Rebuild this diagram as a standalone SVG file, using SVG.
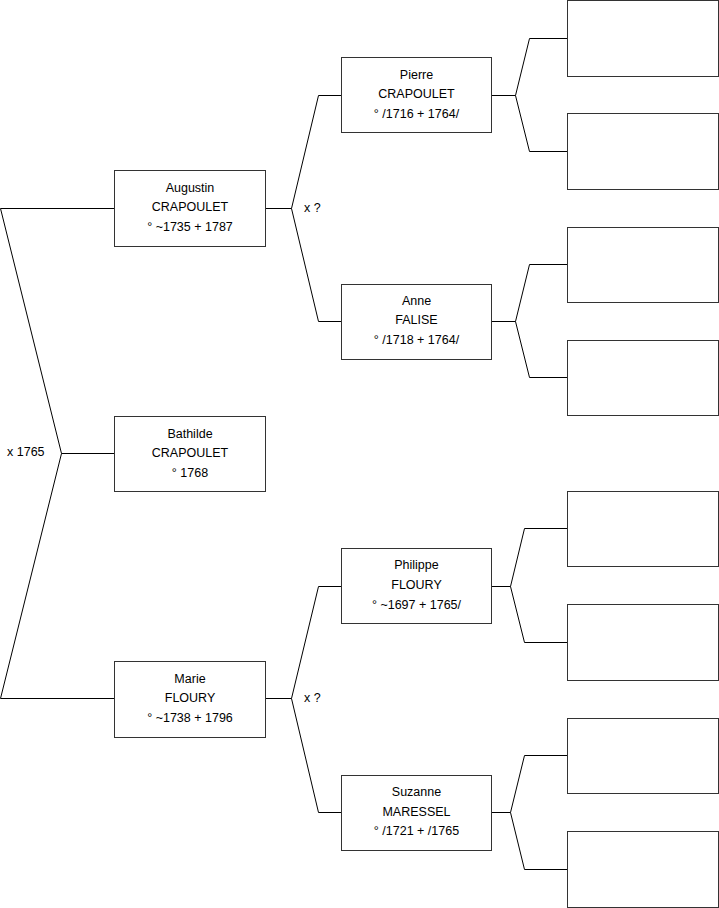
<svg xmlns="http://www.w3.org/2000/svg" width="719" height="908" viewBox="0 0 719 908">
<style>
.box{fill:#fff;stroke:#333;stroke-width:1}
.ln{fill:none;stroke:#000;stroke-width:1}
text{font-family:"Liberation Sans",Arial,sans-serif;font-size:12.5px;fill:#000}
.c{text-anchor:middle}
</style>
<rect width="719" height="908" fill="#fff"/>
<g id="connectors">
<polyline class="ln" points="114,208.5 0.5,208.5 61.5,453.5 0.5,698.5 114,698.5"/>
<line class="ln" x1="61.5" y1="453.5" x2="114" y2="453.5"/>
<polyline class="ln" points="265,208.5 291.5,208.5"/>
<polyline class="ln" points="341,95.5 318.5,95.5 291.5,208.5 318.5,321.5 341,321.5"/>
<polyline class="ln" points="265,698.5 291.5,698.5"/>
<polyline class="ln" points="341,586.5 318.5,586.5 291.5,698.5 318.5,812.5 341,812.5"/>
<polyline class="ln" points="492,95.5 515.5,95.5"/>
<polyline class="ln" points="567,38.5 529.5,38.5 515.5,95.5 529.5,151.5 567,151.5"/>
<polyline class="ln" points="492,321.5 515.5,321.5"/>
<polyline class="ln" points="567,264.5 529.5,264.5 515.5,321.5 529.5,377.5 567,377.5"/>
<polyline class="ln" points="492,586.5 510.5,586.5"/>
<polyline class="ln" points="567,528.5 524.5,528.5 510.5,586.5 524.5,642.5 567,642.5"/>
<polyline class="ln" points="492,812.5 510.5,812.5"/>
<polyline class="ln" points="567,755.5 524.5,755.5 510.5,812.5 524.5,869.5 567,869.5"/>
<text x="304" y="212">x ?</text>
<text x="304" y="702">x ?</text>
<text x="7" y="456">x 1765</text>
</g>
<g id="augustin">
<rect class="box" x="114.5" y="170.5" width="151" height="76"/>
<text class="c" x="190" y="192">Augustin</text>
<text class="c" x="190" y="211">CRAPOULET</text>
<text class="c" x="190" y="231">° ~1735 + 1787</text>
</g>
<g id="bathilde">
<rect class="box" x="114.5" y="416.5" width="151" height="75"/>
<text class="c" x="190" y="438">Bathilde</text>
<text class="c" x="190" y="457">CRAPOULET</text>
<text class="c" x="190" y="477">° 1768</text>
</g>
<g id="marie">
<rect class="box" x="114.5" y="661.5" width="151" height="76"/>
<text class="c" x="190" y="683">Marie</text>
<text class="c" x="190" y="702">FLOURY</text>
<text class="c" x="190" y="722">° ~1738 + 1796</text>
</g>
<g id="pierre">
<rect class="box" x="341.5" y="57.5" width="150" height="75"/>
<text class="c" x="416.5" y="79">Pierre</text>
<text class="c" x="416.5" y="98">CRAPOULET</text>
<text class="c" x="416.5" y="118">° /1716 + 1764/</text>
</g>
<g id="anne">
<rect class="box" x="341.5" y="284.5" width="150" height="75"/>
<text class="c" x="416.5" y="305">Anne</text>
<text class="c" x="416.5" y="324">FALISE</text>
<text class="c" x="416.5" y="344">° /1718 + 1764/</text>
</g>
<g id="philippe">
<rect class="box" x="341.5" y="548.5" width="150" height="75"/>
<text class="c" x="416.5" y="569">Philippe</text>
<text class="c" x="416.5" y="589">FLOURY</text>
<text class="c" x="416.5" y="609">° ~1697 + 1765/</text>
</g>
<g id="suzanne">
<rect class="box" x="341.5" y="775.5" width="150" height="75"/>
<text class="c" x="416.5" y="796">Suzanne</text>
<text class="c" x="416.5" y="816">MARESSEL</text>
<text class="c" x="416.5" y="835">° /1721 + /1765</text>
</g>
<g id="gp1"><rect class="box" x="567.5" y="0.5" width="151" height="76"/></g>
<g id="gp2"><rect class="box" x="567.5" y="113.5" width="151" height="76"/></g>
<g id="gp3"><rect class="box" x="567.5" y="227.5" width="151" height="75"/></g>
<g id="gp4"><rect class="box" x="567.5" y="340.5" width="151" height="75"/></g>
<g id="gp5"><rect class="box" x="567.5" y="491.5" width="151" height="75"/></g>
<g id="gp6"><rect class="box" x="567.5" y="604.5" width="151" height="76"/></g>
<g id="gp7"><rect class="box" x="567.5" y="718.5" width="151" height="75"/></g>
<g id="gp8"><rect class="box" x="567.5" y="831.5" width="151" height="76"/></g>
</svg>
